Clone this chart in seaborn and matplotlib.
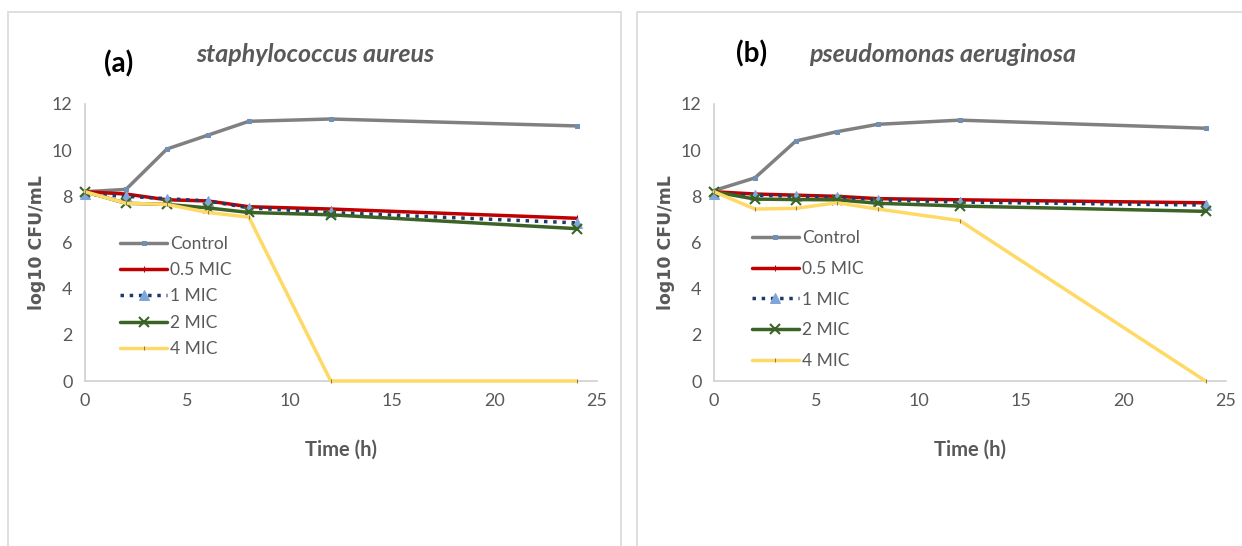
"""Time-kill curves for S. aureus (a) and P. aeruginosa (b), redrawn from the figure."""
import matplotlib
import pandas as pd
import seaborn as sns
from matplotlib import pyplot as plt
from matplotlib.patches import Rectangle

sns.set_style("white")
matplotlib.rcParams["font.family"] = ["Lato", "DejaVu Sans"]

# data (log10 CFU/mL)
time_h = [0, 2, 4, 6, 8, 12, 24]
series_names = ["Control", "0.5 MIC", "1 MIC", "2 MIC", "4 MIC"]

sa_control = [8.2, 8.3, 10.05, 10.65, 11.25, 11.35, 11.05]
sa_05mic = [8.2, 8.1, 7.85, 7.8, 7.55, 7.45, 7.05]
sa_1mic = [8.1, 8.0, 7.9, 7.8, 7.5, 7.3, 6.85]
sa_2mic = [8.2, 7.7, 7.65, 7.5, 7.3, 7.2, 6.6]
sa_4mic = [8.2, 7.7, 7.65, 7.3, 7.1, 0.0, 0.0]

pa_control = [8.25, 8.8, 10.4, 10.8, 11.12, 11.3, 10.95]
pa_05mic = [8.2, 8.1, 8.05, 8.0, 7.9, 7.85, 7.72]
pa_1mic = [8.1, 8.05, 8.0, 7.95, 7.85, 7.75, 7.62]
pa_2mic = [8.2, 7.88, 7.86, 7.85, 7.7, 7.58, 7.35]
pa_4mic = [8.2, 7.45, 7.48, 7.72, 7.45, 6.95, 0.0]

panels = [
    ("(a)", "staphylococcus aureus", [sa_control, sa_05mic, sa_1mic, sa_2mic, sa_4mic]),
    ("(b)", "pseudomonas aeruginosa", [pa_control, pa_05mic, pa_1mic, pa_2mic, pa_4mic]),
]

styles = {
    "Control": dict(color="#808080", linestyle="-", marker="s", markersize=3.5,
                    markerfacecolor="#6f8fb5", markeredgecolor="#6f8fb5"),
    "0.5 MIC": dict(color="#c00000", linestyle="-", marker="|", markersize=4,
                    markeredgecolor="#c00000"),
    "1 MIC": dict(color="#1f3a68", linestyle=":", marker="^", markersize=7,
                  markerfacecolor="#7ea6d8", markeredgecolor="#7ea6d8"),
    "2 MIC": dict(color="#3b6326", linestyle="-", marker="x", markersize=7,
                  markeredgecolor="#3b6326", markeredgewidth=1.5),
    "4 MIC": dict(color="#ffd966", linestyle="-", marker="|", markersize=3,
                  markeredgecolor="#8a7a50"),
}

grey_text = "#595959"
fig = plt.figure(figsize=(12.42, 5.46), dpi=100)
W, H = 1242, 546

# light chart-area frames, as in the spreadsheet export
for x0, x1 in [(8, 621), (637, 1250)]:
    fig.patches.append(Rectangle((x0 / W, -0.05), (x1 - x0) / W, 1.05 - 12 / H,
                                 transform=fig.transFigure, fill=False,
                                 edgecolor="#d9d9d9", linewidth=1.2))

axes_left = [85, 714]
legend_pos = [(0.055, 0.55), (0.06, 0.57)]
legend_gap = [0.6, 0.85]
label_x = [119, 752]
title_x = [315, 943]
label_y = [64, 54]

for i, (tag, species, values) in enumerate(panels):
    ax = fig.add_axes([axes_left[i] / W, 1 - 381 / H, 512 / W, 277 / H])
    df = pd.DataFrame({"time": time_h})
    for name, vals in zip(series_names, values):
        df[name] = vals
        sns.lineplot(ax=ax, data=df, x="time", y=name, label=name,
                     linewidth=2.5, clip_on=False, zorder=3, **styles[name])

    ax.set_xlim(0, 25)
    ax.set_ylim(0, 12)
    ax.set_xticks(range(0, 26, 5))
    ax.set_yticks(range(0, 13, 2))
    ax.tick_params(length=0, labelsize=13, colors=grey_text, pad=9)
    for side in ["top", "right"]:
        ax.spines[side].set_visible(False)
    for side in ["left", "bottom"]:
        ax.spines[side].set_color("#d0d0d0")
        ax.spines[side].set_linewidth(1.2)
    ax.set_xlabel("Time (h)", fontsize=14.5, fontweight="bold", color=grey_text, labelpad=22)
    ax.set_ylabel("log10 CFU/mL", fontsize=12.5, fontweight="bold", color=grey_text,
                  family="DejaVu Sans", labelpad=4)

    leg = ax.legend(loc="upper left", bbox_to_anchor=legend_pos[i], frameon=False,
                    fontsize=12.5, handlelength=2.7, handletextpad=0.2,
                    labelspacing=legend_gap[i], borderaxespad=0)
    for txt in leg.get_texts():
        txt.set_color(grey_text)

    fig.text(label_x[i] / W, 1 - label_y[i] / H, tag, fontsize=20, fontweight="bold",
             ha="center", va="center", color="black")
    fig.text(title_x[i] / W, 1 - 55 / H, species, fontsize=18, fontweight="bold",
             style="italic", ha="center", va="center", color=grey_text)

fig.savefig("out.png", dpi=100)
